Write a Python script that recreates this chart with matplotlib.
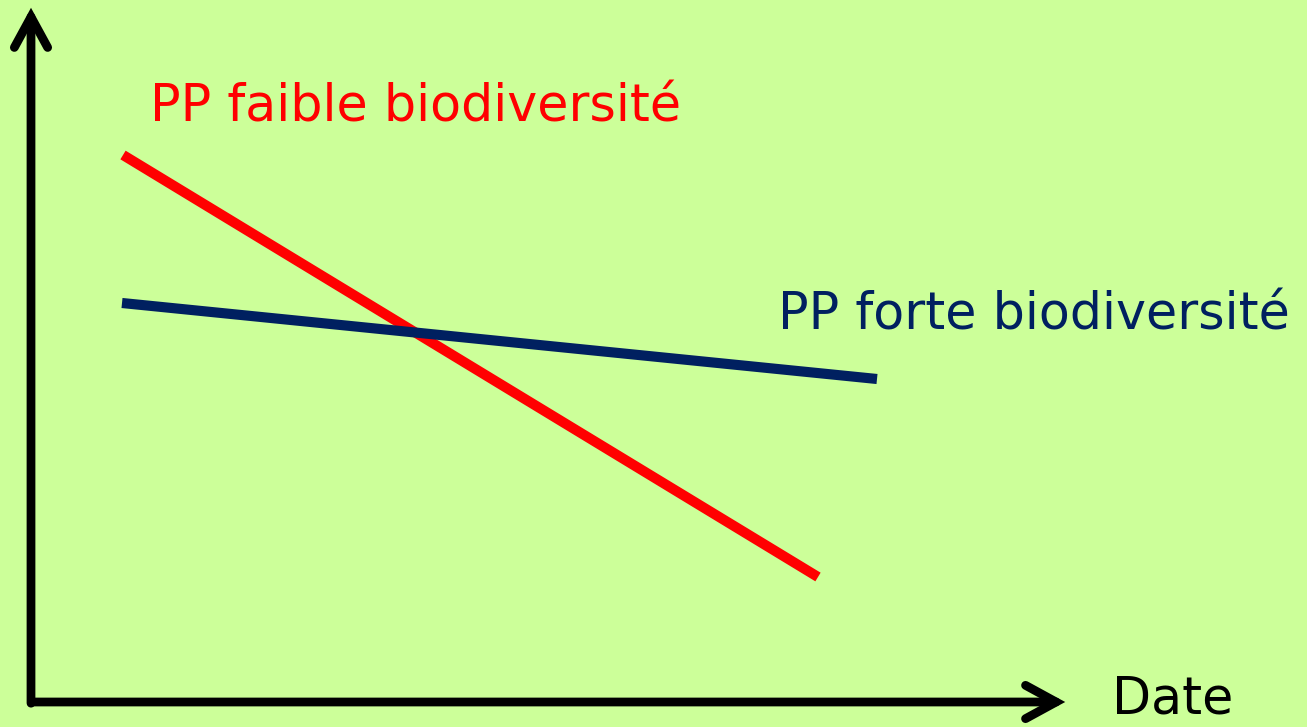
import matplotlib
matplotlib.use("Agg")
import matplotlib.pyplot as plt
from matplotlib.patches import FancyArrowPatch

# ----- Data (arbitrary units, origin at the axes corner) -----
date = [92, 787]
pp_faible = [547, 125]
date_forte = [91, 846]
pp_forte = [399, 323]

label_faible = "PP faible biodiversité"
label_forte = "PP forte biodiversité"
label_x = "Date"

bg = "#ccff99"
red = "#ff0000"
navy = "#002060"

fig = plt.figure(figsize=(13.07, 7.27), dpi=100, facecolor=bg)
ax = fig.add_axes([0, 0, 1, 1], facecolor=bg)
ax.set_xlim(-31, 1276)
ax.set_ylim(-25, 702)
ax.axis("off")

# ----- Axes arrows -----
for start, end in [((0, -4), (0, 697)), ((-2, 0), (1037, 0))]:
    arr = FancyArrowPatch(start, end, arrowstyle="->,head_length=22,head_width=12",
                          mutation_scale=1, lw=6.3, color="black",
                          capstyle="round", joinstyle="miter")
    ax.add_patch(arr)

# ----- Lines -----
ax.plot(date, pp_faible, color=red, lw=7.3, solid_capstyle="butt")
ax.plot(date_forte, pp_forte, color=navy, lw=7.3, solid_capstyle="butt")

# ----- Labels -----
ax.text(119, 580, label_faible, color=red, fontsize=36.5, va="baseline", ha="left")
ax.text(747, 373, label_forte, color=navy, fontsize=36.5, va="baseline", ha="left")
ax.text(1081, -12, label_x, color="black", fontsize=36.5, va="baseline", ha="left")

fig.savefig("out.png", dpi=100, facecolor=bg)
